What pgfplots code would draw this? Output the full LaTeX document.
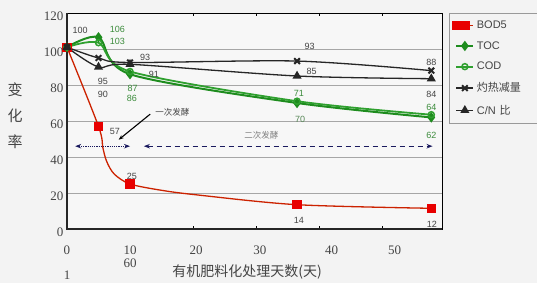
\documentclass[border=0pt]{standalone}
\usepackage{pgfplots}
\pgfplotsset{compat=1.18}
\usepackage{fontspec}
\setmainfont{Liberation Serif}
\newfontfamily\cjk{Noto Sans CJK SC}
\newfontfamily\lab{Liberation Sans}
\usetikzlibrary{arrows.meta}
\definecolor{bg}{HTML}{F3F3F3}
\definecolor{plotbg}{HTML}{F7F7F7}
\definecolor{bodred}{HTML}{E80000}
\definecolor{bodline}{HTML}{CC2200}
\definecolor{tocg}{HTML}{1E8C1E}
\definecolor{codg}{HTML}{2FA02F}
\definecolor{navy}{HTML}{1A1A5E}
\definecolor{txt}{HTML}{444444}
\definecolor{glab}{HTML}{3C8C3C}
\begin{document}
\begin{tikzpicture}
\fill[bg] (-67pt,-54pt) rectangle (470pt,229pt);
\path[use as bounding box] (-67pt,-54pt) rectangle (470pt,229pt);
\begin{axis}[
  at={(0pt,0pt)}, anchor=south west,
  scale only axis, width=375pt, height=216pt,
  xmin=0, xmax=59.5, ymin=0, ymax=120,
  axis background/.style={fill=plotbg},
  axis line style={black, line width=0.9pt},
  ytick={0,20,40,60,80,100,120},
  yticklabel style={font=\fontsize{13}{14}\selectfont, text=txt, yshift=-3pt},
  xtick={0,10,20.5,30.6,42,52},
  xticklabels={0,10,20,30,40,50},
  xticklabel style={font=\fontsize{13}{14}\selectfont, text=txt, yshift=-13pt},
  major tick length=0pt,
  extra x ticks={20,30,40,50}, extra x tick labels={},
  extra x tick style={major tick length=3pt, tick style={black, line width=0.8pt}, tick align=inside},
  /pgf/number format/assume math mode=true,
  ymajorgrids, grid style={gray!70, line width=0.8pt},
  legend style={at={(rel axis cs:1.019,1)}, anchor=north west, draw=gray!80, fill=bg,
    font=\lab\fontsize{11}{13}\selectfont, text=txt, row sep=6.5pt,
    nodes={text width=62pt, inner sep=2.5pt}, inner ysep=5pt},
  legend cell align=left,
  clip=false,
]
\addplot[bodline, line width=1.3pt, smooth, tension=0.5, mark=square*, mark size=4pt,
  mark options={fill=bodred, draw=bodred, solid}, mark indices={1,2,6,9,10}]
  coordinates {(0,101) (5,57) (5.7,45) (6.3,37.5) (7.5,30.5) (10,25) (15,21.5) (20.5,19) (36.5,13.5) (57.8,11.5)};
\addlegendentry{BOD5}
\addplot[tocg, line width=2pt, smooth, mark=diamond*, mark size=3.6pt, mark options={fill=tocg}]
  coordinates {(0,101) (5,106.5) (10,86) (36.5,70) (57.8,62)};
\addlegendentry{TOC}
\addplot[codg, line width=1.8pt, smooth, mark=o, mark size=3pt, mark options={fill=white, line width=1.5pt}]
  coordinates {(0,101) (5,103.5) (10,87.5) (36.5,71) (57.8,63.5)};
\addlegendentry{COD}
\addplot[black!85, line width=1.3pt, smooth, mark=x, mark size=4pt, mark options={line width=2pt}]
  coordinates {(0,101) (5,95) (10,92.5) (36.5,93.3) (57.8,88)};
\addlegendentry{\cjk 灼热减量}
\addplot[black!85, line width=1.3pt, smooth, mark=triangle*, mark size=4pt]
  coordinates {(0,101) (5,90) (10,91.5) (36.5,85) (57.8,83.5)};
\addlegendentry{C/N \cjk 比}
% thick left/bottom axis
\draw[line width=1.8pt, black!85] (rel axis cs:0,1) -- (rel axis cs:0,0) -- (rel axis cs:1,0);
% data labels
\begin{scope}[every node/.style={font=\lab\fontsize{9}{10}\selectfont, text=txt, inner sep=0pt}]
\node at (axis cs:2.1,110.6) {100};
\node[text=glab] at (axis cs:8.0,111) {106};
\node[text=glab] at (axis cs:8.0,104) {103};
\node at (axis cs:5.7,82) {95};
\node at (axis cs:5.7,75) {90};
\node[text=glab] at (axis cs:10.4,78) {87};
\node[text=glab] at (axis cs:10.3,72.5) {86};
\node at (axis cs:12.4,95.6) {93};
\node at (axis cs:13.8,86) {91};
\node at (axis cs:7.6,54) {57};
\node at (axis cs:10.3,29.4) {25};
\node at (axis cs:38.5,101.7) {93};
\node at (axis cs:38.8,87.8) {85};
\node[text=glab] at (axis cs:36.8,75.6) {71};
\node[text=glab!60!gray] at (axis cs:37,60.8) {70};
\node at (axis cs:57.8,92.8) {88};
\node at (axis cs:57.8,75) {84};
\node[text=glab] at (axis cs:57.8,67.8) {64};
\node[text=glab] at (axis cs:57.8,52.2) {62};
\node at (axis cs:36.8,5) {14};
\node at (axis cs:57.9,2.8) {12};
\end{scope}
% fermentation annotations
\draw[navy, line width=1.2pt, densely dotted, {Stealth[length=6pt]}-{Stealth[length=6pt]}] (axis cs:1.3,46) -- (axis cs:10,46);
\draw[navy, line width=1.1pt, dash pattern=on 5pt off 4pt, {Stealth[length=6pt]}-{Stealth[length=6pt]}] (axis cs:12.2,46) -- (axis cs:58,46);
\node[font=\cjk\fontsize{8.5}{10}\selectfont, text=txt, anchor=west, inner sep=0pt] at (axis cs:14,65) {一次发酵};
\draw[black, line width=1.1pt, -{Stealth[length=5pt]}] (axis cs:13.2,63.8) -- (axis cs:8.2,49.6);
\node[font=\cjk\fontsize{8.5}{10}\selectfont, text=gray, anchor=west, inner sep=0pt] at (axis cs:28.1,52.2) {二次发酵};
\end{axis}
\node[font=\cjk\fontsize{15}{26}\selectfont, text=txt, align=center] at (-52pt,113pt) {变\\化\\率};
\node[font=\fontsize{13}{14}\selectfont, text=txt] at (63pt,-34pt) {60};
\node[font=\fontsize{13}{14}\selectfont, text=txt] at (0pt,-46pt) {1};
\node[font=\cjk\fontsize{14}{16}\selectfont, text=txt] at (180pt,-43pt) {有机肥料化处理天数(天)};
\end{tikzpicture}
\end{document}
